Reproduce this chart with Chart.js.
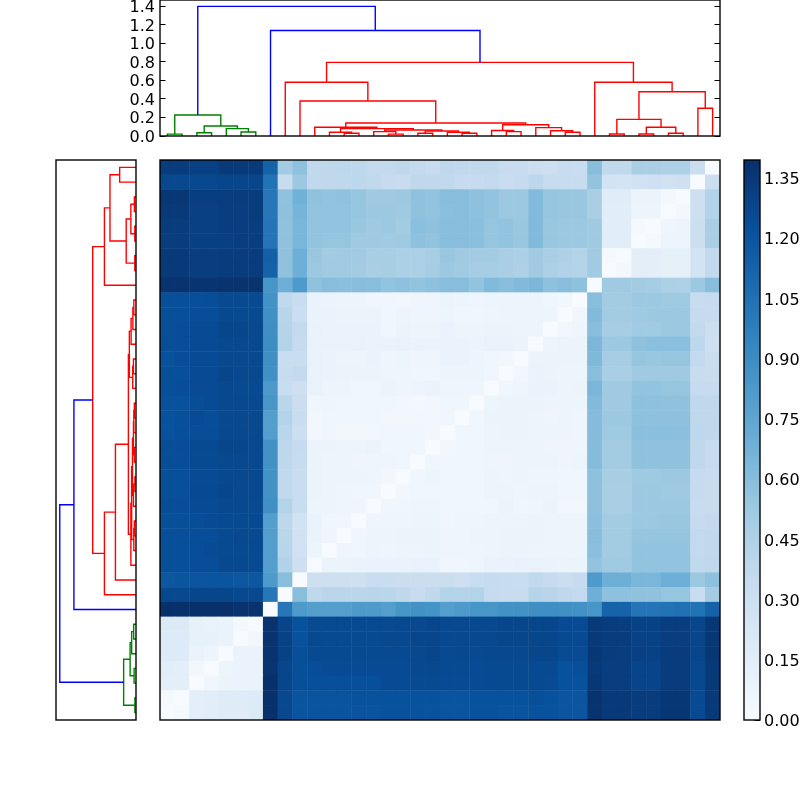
<!DOCTYPE html>
<html>
<head>
<meta charset="utf-8">
<script src="https://cdn.jsdelivr.net/npm/chart.js@4"></script>
<style>
html,body{margin:0;padding:0;background:#fff;width:800px;height:800px;overflow:hidden}
canvas{position:absolute;display:block}
</style>
</head>
<body>
<canvas id="top" width="640" height="184" style="left:100px;top:-24px"></canvas>
<canvas id="side" width="95" height="580" style="left:50px;top:150px"></canvas>
<canvas id="heat" width="570" height="570" style="left:155px;top:155px"></canvas>
<canvas id="bar" width="60" height="608" style="left:740px;top:136px"></canvas>
<script>
const colorMax = 1.395;
const distanceMax = 1.469;
const leafSpan = 380;
const distanceTicks = [0,0.2,0.4,0.6,0.8,1.0,1.2,1.4];
const colorTicks = [0,0.15,0.3,0.45,0.6,0.75,0.9,1.05,1.2,1.35];
const bluesStops = ['#f7fbff','#deebf7','#c6dbef','#9ecae1','#6baed6','#4292c6','#2171b5','#08519c','#08306b'];

// each link: left x, left base, height, right base, right x
const greenLinks = [
 [5,0,.02,0,15],[25,0,.035,0,35],[55,0,.043,0,65],[45,0,.08,.043,60],
 [30,.035,.108,.08,52.5],[10,.02,.227,.108,41.25]
];
const blueLinks = [
 [75,0,1.14,.795,217.14],[25.625,.227,1.40,1.14,146.07]
];
const redLinks = [
 [275,0,.04,0,285],[265,0,.057,.04,280],[255,0,.09,.057,272.5],[235,0,.047,0,245],
 [225,0,.06,.047,240],[232.5,.06,.122,.09,263.75],[205,0,.03,0,215],[195,0,.04,.03,210],
 [175,0,.03,0,185],[180,.03,.054,.04,202.5],[155,0,.02,0,165],[145,0,.047,.02,160],
 [152.5,.047,.065,.054,191.25],[125,0,.03,0,135],[115,0,.04,.03,130],[122.5,.04,.08,.065,171.875],
 [105,0,.094,.08,147.19],[126.09,.094,.14,.122,248.125],[95,0,.378,.14,187.11],[85,0,.58,.378,141.05],
 [305,0,.022,0,315],[325,0,.022,0,335],[345,0,.03,0,355],[330,.022,.094,.03,350],
 [310,.022,.18,.094,340],[365,0,.30,0,375],[325,.18,.478,.30,370],[295,0,.58,.478,347.5],
 [113.03,.58,.795,.58,321.25]
];

// distance matrix, rows top to bottom, columns left to right
const heatRows = [
[1.33,1.33,1.31,1.31,1.34,1.34,1.34,1.13,.50,.58,.37,.38,.39,.39,.36,.36,.38,.36,.34,.38,.37,.37,.37,.34,.34,.31,.30,.34,.33,.60,.37,.37,.47,.47,.45,.45,.32,0],
[1.27,1.27,1.27,1.27,1.28,1.28,1.28,1.04,.34,.53,.37,.38,.38,.39,.37,.35,.34,.38,.38,.37,.35,.35,.36,.33,.35,.39,.34,.34,.34,.56,.26,.25,.28,.29,.27,.29,0,.32],
[1.36,1.36,1.32,1.32,1.32,1.33,1.33,1.02,.57,.68,.57,.56,.57,.55,.52,.52,.53,.57,.56,.60,.60,.58,.56,.53,.53,.62,.55,.54,.54,.47,.16,.16,.08,.08,.03,0,.30,.43],
[1.34,1.34,1.31,1.31,1.32,1.32,1.33,1.02,.58,.66,.56,.56,.56,.55,.53,.53,.52,.57,.56,.59,.60,.58,.56,.53,.53,.62,.55,.54,.54,.47,.15,.15,.07,.07,0,.03,.30,.43],
[1.33,1.33,1.31,1.31,1.32,1.32,1.32,1.03,.57,.65,.56,.56,.56,.54,.52,.53,.50,.59,.58,.60,.60,.59,.55,.56,.54,.62,.54,.53,.53,.52,.15,.15,.02,0,.06,.07,.31,.47],
[1.32,1.33,1.31,1.31,1.31,1.32,1.32,1.03,.57,.65,.56,.55,.55,.52,.52,.51,.52,.58,.56,.60,.60,.59,.55,.56,.54,.62,.54,.53,.53,.52,.15,.15,0,.02,.07,.07,.31,.47],
[1.35,1.34,1.32,1.32,1.33,1.33,1.33,1.14,.57,.69,.54,.50,.51,.51,.48,.48,.46,.46,.48,.54,.52,.50,.50,.47,.46,.52,.47,.45,.43,.51,.02,0,.14,.14,.12,.12,.26,.36],
[1.35,1.35,1.32,1.32,1.33,1.33,1.33,1.13,.57,.69,.53,.51,.51,.50,.47,.48,.46,.46,.49,.53,.51,.49,.49,.47,.45,.51,.46,.44,.43,.51,0,.03,.14,.14,.12,.12,.26,.36],
[1.38,1.38,1.37,1.37,1.38,1.38,1.38,.85,.69,.82,.57,.60,.59,.60,.60,.56,.58,.56,.58,.60,.60,.56,.62,.60,.62,.64,.58,.60,.58,0,.52,.52,.50,.49,.46,.45,.53,.60],
[1.23,1.23,1.23,1.24,1.26,1.26,1.26,.87,.37,.33,.09,.08,.07,.07,.05,.05,.04,.06,.06,.08,.07,.06,.07,.07,.07,.07,.05,.04,0,.60,.50,.50,.53,.53,.52,.52,.34,.35],
[1.23,1.23,1.24,1.24,1.27,1.26,1.26,.88,.41,.32,.09,.09,.08,.08,.08,.05,.07,.06,.06,.07,.05,.05,.06,.07,.07,.07,.07,0,.05,.62,.50,.50,.52,.53,.53,.53,.35,.35],
[1.23,1.24,1.25,1.25,1.28,1.28,1.27,.89,.42,.36,.10,.09,.09,.09,.09,.05,.08,.07,.07,.09,.07,.07,.08,.08,.07,.07,0,.04,.06,.60,.49,.49,.51,.51,.53,.53,.36,.31],
[1.24,1.24,1.25,1.25,1.27,1.27,1.27,.90,.43,.35,.10,.10,.10,.10,.09,.09,.10,.09,.09,.09,.09,.08,.10,.10,.08,0,.07,.08,.08,.64,.53,.53,.58,.59,.59,.59,.39,.30],
[1.22,1.24,1.25,1.25,1.27,1.27,1.27,.89,.33,.33,.10,.09,.07,.07,.09,.06,.07,.06,.06,.09,.09,.07,.05,.04,0,.08,.08,.08,.08,.63,.49,.49,.55,.54,.55,.55,.36,.33],
[1.23,1.23,1.25,1.25,1.28,1.27,1.27,.88,.34,.36,.10,.09,.08,.08,.08,.06,.06,.05,.05,.07,.07,.07,.05,0,.04,.09,.08,.07,.07,.60,.47,.47,.52,.52,.52,.52,.34,.33],
[1.23,1.24,1.25,1.25,1.27,1.26,1.26,.83,.33,.30,.10,.07,.07,.05,.05,.08,.06,.07,.09,.06,.06,.06,0,.05,.06,.09,.09,.07,.08,.65,.52,.52,.56,.56,.55,.55,.35,.35],
[1.22,1.22,1.24,1.25,1.27,1.27,1.27,.85,.40,.32,.05,.06,.05,.05,.05,.05,.04,.03,.04,.05,.05,0,.07,.08,.08,.08,.07,.07,.07,.62,.52,.52,.58,.58,.57,.57,.38,.38],
[1.22,1.23,1.25,1.24,1.27,1.27,1.27,.80,.43,.33,.04,.05,.05,.05,.05,.04,.04,.04,.04,.05,0,.05,.08,.08,.08,.07,.06,.07,.06,.61,.53,.53,.58,.58,.58,.58,.38,.38],
[1.22,1.23,1.24,1.24,1.27,1.27,1.27,.80,.40,.31,.04,.05,.04,.04,.04,.05,.05,.05,.04,0,.05,.05,.07,.08,.08,.07,.07,.07,.06,.61,.52,.52,.59,.59,.59,.59,.39,.38],
[1.24,1.24,1.26,1.26,1.28,1.28,1.27,.87,.39,.35,.08,.08,.07,.07,.08,.05,.05,.05,0,.04,.05,.05,.07,.07,.07,.07,.06,.06,.06,.61,.50,.50,.57,.57,.57,.57,.38,.35],
[1.24,1.24,1.26,1.26,1.27,1.27,1.27,.87,.39,.34,.08,.07,.07,.06,.06,.06,.05,0,.05,.05,.05,.05,.06,.06,.07,.07,.07,.06,.07,.61,.50,.50,.57,.57,.57,.57,.38,.35],
[1.23,1.23,1.25,1.25,1.27,1.27,1.27,.87,.37,.33,.08,.07,.07,.07,.06,.04,0,.05,.07,.05,.05,.05,.07,.06,.07,.06,.06,.05,.05,.58,.48,.48,.52,.52,.53,.53,.35,.34],
[1.23,1.23,1.26,1.26,1.28,1.27,1.27,.87,.37,.33,.08,.07,.06,.05,.05,0,.04,.05,.05,.05,.05,.05,.07,.07,.06,.07,.07,.05,.05,.58,.47,.47,.53,.53,.52,.52,.35,.34],
[1.24,1.24,1.25,1.25,1.27,1.27,1.26,.88,.43,.33,.07,.07,.06,.06,0,.05,.05,.06,.06,.05,.05,.05,.05,.08,.05,.06,.08,.04,.04,.58,.47,.47,.53,.53,.53,.53,.34,.34],
[1.23,1.23,1.24,1.25,1.26,1.26,1.26,.80,.39,.27,.09,.05,.05,0,.06,.06,.06,.07,.07,.05,.06,.06,.07,.07,.07,.08,.07,.07,.07,.59,.50,.50,.53,.53,.54,.54,.35,.36],
[1.23,1.23,1.24,1.24,1.26,1.27,1.26,.80,.40,.27,.09,.06,0,.05,.07,.07,.08,.08,.08,.06,.06,.07,.07,.08,.08,.08,.07,.07,.07,.60,.50,.50,.55,.55,.55,.55,.36,.37],
[1.23,1.23,1.24,1.25,1.26,1.26,1.26,.80,.41,.28,.07,0,.06,.05,.07,.06,.07,.07,.08,.06,.06,.06,.07,.08,.08,.07,.07,.07,.07,.59,.50,.50,.56,.56,.56,.56,.36,.37],
[1.23,1.23,1.24,1.24,1.27,1.27,1.26,.80,.44,.30,0,.08,.08,.09,.09,.09,.09,.10,.10,.05,.05,.06,.09,.09,.10,.10,.09,.08,.08,.56,.52,.52,.56,.56,.56,.56,.37,.38],
[1.19,1.20,1.20,1.20,1.20,1.19,1.19,.82,.60,0,.30,.30,.30,.29,.33,.33,.32,.32,.32,.32,.30,.33,.35,.34,.33,.37,.35,.32,.35,.82,.69,.69,.65,.65,.69,.69,.53,.58],
[1.27,1.27,1.28,1.28,1.28,1.27,1.27,1.02,0,.60,.38,.40,.40,.40,.41,.40,.38,.34,.37,.43,.42,.43,.35,.34,.34,.42,.41,.38,.36,.69,.58,.58,.57,.57,.55,.55,.33,.50],
[1.39,1.39,1.39,1.39,1.39,1.38,1.38,0,1.02,.82,.80,.80,.80,.82,.82,.80,.85,.87,.86,.80,.82,.85,.85,.87,.87,.89,.89,.88,.87,.85,1.12,1.12,1.03,1.03,1.04,1.05,1.04,1.13],
[.19,.19,.11,.10,.09,.03,0,1.38,1.29,1.22,1.26,1.26,1.26,1.26,1.26,1.26,1.27,1.27,1.28,1.27,1.27,1.27,1.27,1.28,1.28,1.28,1.28,1.25,1.25,1.35,1.33,1.32,1.30,1.30,1.32,1.32,1.28,1.36],
[.18,.18,.11,.11,.09,0,.04,1.38,1.30,1.22,1.27,1.26,1.26,1.26,1.26,1.27,1.27,1.28,1.28,1.27,1.27,1.27,1.27,1.28,1.28,1.28,1.28,1.26,1.26,1.35,1.33,1.33,1.30,1.30,1.32,1.32,1.28,1.36],
[.18,.18,.09,.07,0,.09,.09,1.38,1.30,1.23,1.26,1.26,1.26,1.26,1.26,1.26,1.26,1.27,1.28,1.26,1.27,1.26,1.27,1.27,1.27,1.28,1.28,1.25,1.25,1.36,1.33,1.32,1.31,1.30,1.33,1.33,1.28,1.36],
[.15,.14,.04,0,.07,.09,.09,1.37,1.28,1.23,1.24,1.25,1.25,1.25,1.25,1.25,1.25,1.27,1.27,1.26,1.26,1.25,1.26,1.26,1.26,1.26,1.26,1.22,1.23,1.35,1.32,1.32,1.29,1.29,1.33,1.33,1.27,1.35],
[.14,.14,0,.05,.08,.09,.09,1.39,1.28,1.23,1.23,1.23,1.23,1.23,1.23,1.25,1.25,1.26,1.26,1.25,1.25,1.25,1.26,1.26,1.26,1.26,1.25,1.22,1.22,1.36,1.32,1.32,1.29,1.29,1.33,1.33,1.27,1.35],
[.02,0,.14,.15,.17,.17,.18,1.39,1.27,1.21,1.21,1.21,1.21,1.22,1.22,1.22,1.22,1.22,1.22,1.21,1.21,1.22,1.22,1.22,1.22,1.23,1.22,1.20,1.20,1.38,1.35,1.35,1.33,1.33,1.36,1.36,1.26,1.35],
[0,.02,.14,.15,.17,.17,.19,1.39,1.27,1.21,1.21,1.21,1.21,1.21,1.21,1.22,1.22,1.22,1.22,1.21,1.21,1.22,1.22,1.21,1.21,1.22,1.22,1.20,1.20,1.38,1.35,1.35,1.33,1.33,1.36,1.36,1.26,1.35]
];

const FONT = {family:'"DejaVu Sans"', size:16};
Chart.defaults.animation = false;
Chart.defaults.events = [];
Chart.defaults.color = '#000';
Chart.defaults.devicePixelRatio = 1;

const frame = {
  id:'frame',
  afterDatasetsDraw(chart){
    const a = chart.chartArea, c = chart.ctx;
    c.save();
    c.strokeStyle = '#000';
    c.lineWidth = 1.39;
    c.strokeRect(Math.round(a.left), Math.round(a.top), Math.round(a.right-a.left), Math.round(a.bottom-a.top));
    c.restore();
  }
};
const plain = {legend:{display:false}, tooltip:{enabled:false}};

function hexRgb(h){ return [1,3,5].map(i=>parseInt(h.substr(i,2),16)); }
function blues(v){
  const t = Math.min(1, Math.max(0, v/colorMax))*(bluesStops.length-1);
  const i = Math.min(bluesStops.length-2, Math.floor(t));
  const a = hexRgb(bluesStops[i]), b = hexRgb(bluesStops[i+1]), f = t-i;
  return 'rgb('+a.map((x,k)=>Math.round(x+(b[k]-x)*f)).join(',')+')';
}
function linkPath(l, swap){
  const pts = [[l[0],l[1]],[l[0],l[2]],[l[4],l[2]],[l[4],l[3]]];
  return pts.map(p => swap ? {x:p[1],y:p[0]} : {x:p[0],y:p[1]});
}
function linkSets(swap){
  const sets = [];
  [[blueLinks,'#0000ff'],[greenLinks,'#008000'],[redLinks,'#ff0000']].forEach(([list,col])=>{
    list.forEach(l=>sets.push({data:linkPath(l,swap),showLine:true,borderColor:col,borderWidth:1.39,
      pointRadius:0,tension:0,fill:false,clip:0}));
  });
  return sets;
}
function setTicks(values){ return axis => { axis.ticks = values.map(v=>({value:v})); }; }
const tickGrid = {drawOnChartArea:false, drawTicks:true, tickLength:-5.5, tickColor:'#000', tickWidth:1, lineWidth:1};

// upper dendrogram
new Chart(document.getElementById('top'),{
  type:'scatter',
  data:{datasets:linkSets(false)},
  options:{responsive:false,
    layout:{autoPadding:false,padding:{top:24,bottom:24,left:0,right:0}},
    plugins:plain,
    scales:{
      x:{type:'linear',display:false,min:0,max:leafSpan},
      y:{type:'linear',position:'left',min:0,max:distanceMax,grid:tickGrid,border:{display:false},
         afterBuildTicks:setTicks(distanceTicks),
         afterFit(s){s.width=60;},
         ticks:{autoSkip:false,font:FONT,padding:10.5,labelOffset:1.5,callback:v=>Number(v).toFixed(1)}},
      y2:{type:'linear',position:'right',min:0,max:distanceMax,grid:tickGrid,border:{display:false},
         afterBuildTicks:setTicks(distanceTicks),
         afterFit(s){s.width=20;},
         ticks:{display:false}}
    }
  },
  plugins:[frame]
});

// left dendrogram
new Chart(document.getElementById('side'),{
  type:'scatter',
  data:{datasets:linkSets(true)},
  options:{responsive:false,
    layout:{autoPadding:false,padding:{top:10,bottom:10,left:6,right:9}},
    plugins:plain,
    scales:{
      x:{type:'linear',display:false,reverse:true,min:0,max:distanceMax},
      y:{type:'linear',display:false,min:0,max:leafSpan}
    }
  },
  plugins:[frame]
});

// heat map
const heatCells = [];
heatRows.forEach((row,r)=>row.forEach((v,c)=>heatCells.push({x:c,y:r,v:v})));
new Chart(document.getElementById('heat'),{
  type:'scatter',
  data:{datasets:[{data:heatCells,pointStyle:'rect',pointRadius:10.75,pointBorderWidth:0,clip:0,
    pointBackgroundColor:ctx=>ctx.raw?blues(ctx.raw.v):'#fff'}]},
  options:{responsive:false,
    layout:{autoPadding:false,padding:5},
    plugins:plain,
    scales:{
      x:{type:'linear',display:false,min:-0.5,max:heatRows[0].length-0.5},
      y:{type:'linear',display:false,reverse:true,min:-0.5,max:heatRows.length-0.5}
    }
  },
  plugins:[frame]
});

// colour bar
new Chart(document.getElementById('bar'),{
  type:'bar',
  data:{labels:['scale'],datasets:[{data:[[0,colorMax]],barPercentage:1,categoryPercentage:1,borderWidth:0,
    backgroundColor(ctx){
      const a = ctx.chart.chartArea;
      if(!a) return bluesStops[4];
      const g = ctx.chart.ctx.createLinearGradient(0,a.bottom,0,a.top);
      bluesStops.forEach((c,i)=>g.addColorStop(i/(bluesStops.length-1),c));
      return g;
    }}]},
  options:{responsive:false,
    layout:{autoPadding:false,padding:{top:24,bottom:24,left:4,right:0}},
    plugins:plain,
    scales:{
      x:{type:'category',display:false},
      y:{type:'linear',position:'right',min:0,max:colorMax,grid:tickGrid,border:{display:false},
         afterBuildTicks:setTicks(colorTicks),
         afterFit(s){s.width=40;},
         ticks:{autoSkip:false,font:FONT,padding:9.5,labelOffset:2,callback:v=>Number(v).toFixed(2)}}
    }
  },
  plugins:[frame]
});
</script>
</body>
</html>
